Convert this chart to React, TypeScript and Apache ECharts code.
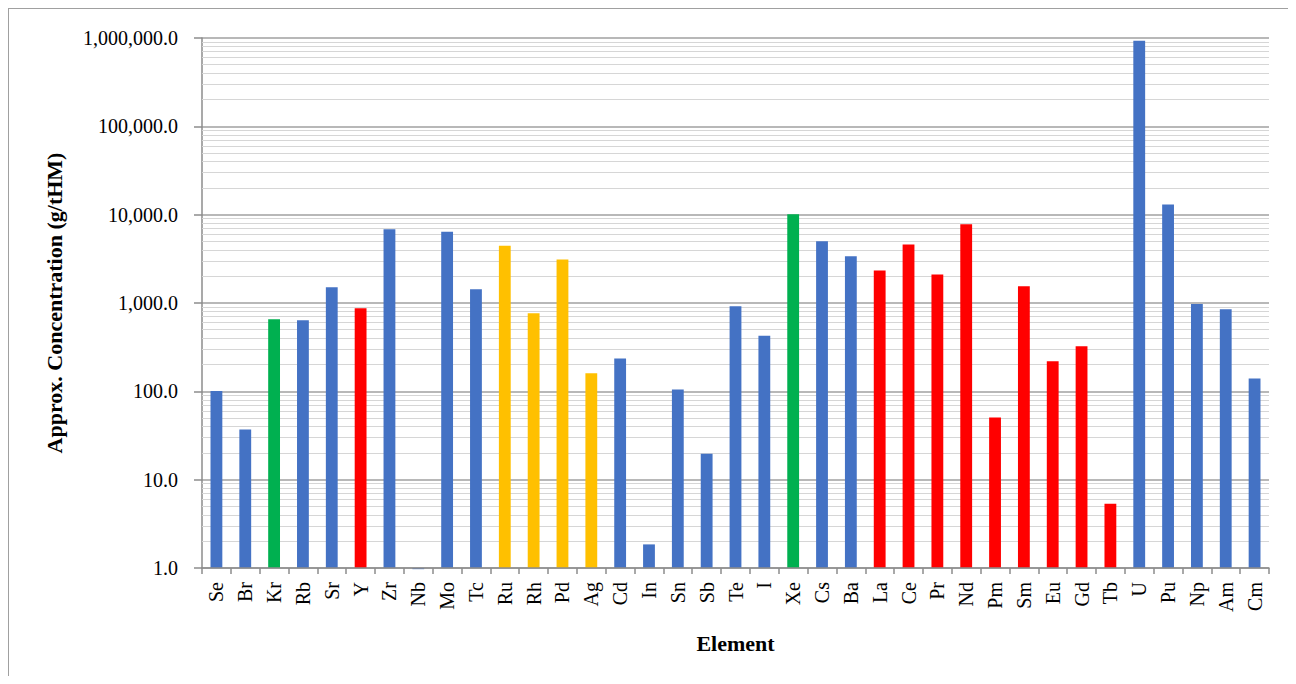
import React, { useEffect, useRef } from "react";
import * as echarts from "echarts";

const categories = ["Se","Br","Kr","Rb","Sr","Y","Zr","Nb","Mo","Tc","Ru","Rh","Pd","Ag","Cd","In","Sn","Sb","Te","I","Xe","Cs","Ba","La","Ce","Pr","Nd","Pm","Sm","Eu","Gd","Tb","U","Pu","Np","Am","Cm"];
const concentrations = [101, 37, 653, 637, 1504, 870, 6840, 0.97, 6400, 1430, 4450, 765, 3100, 160, 235, 1.85, 105, 19.6, 920, 425, 10100, 5000, 3380, 2330, 4580, 2105, 7780, 50.5, 1545, 219, 323, 5.35, 930000, 13060, 977, 849, 140];
const groups = ["o","o","gas","o","o","re","o","o","o","o","pgm","pgm","pgm","pgm","o","o","o","o","o","o","gas","o","o","re","re","re","re","re","re","re","re","re","o","o","o","o","o"];
const groupColors: Record<string, string> = { o: "#4472C4", gas: "#00B050", re: "#FF0000", pgm: "#FFC000" };
const majorTicks = [1, 10, 100, 1000, 10000, 100000, 1000000];
const minorSteps = [2, 3, 4, 5, 6, 7, 8, 9];

const FONT = "'Liberation Serif', 'Times New Roman', serif";

export default function App() {
  const ref = useRef<HTMLDivElement>(null);
  useEffect(() => {
    if (!ref.current) return;
    const chart = echarts.init(ref.current, null, { renderer: "svg" });
    const minorLines: { yAxis: number }[] = [];
    majorTicks.slice(0, -1).forEach((d) => minorSteps.forEach((m) => minorLines.push({ yAxis: d * m })));
    chart.setOption({
      animation: false,
      backgroundColor: "#ffffff",
      grid: { left: 193, right: 19, top: 29, bottom: 108, containLabel: false },
      xAxis: {
        type: "category",
        data: categories,
        name: "Element",
        nameLocation: "middle",
        nameGap: 64,
        nameTextStyle: { fontFamily: FONT, fontSize: 22, fontWeight: "bold", color: "#000" },
        axisLine: { onZero: false, lineStyle: { color: "#8c8c8c", width: 1.5 } },
        axisTick: { show: true, length: 6, lineStyle: { color: "#8c8c8c", width: 1.5 } },
        axisLabel: { rotate: 90, margin: 14, fontFamily: FONT, fontSize: 20, color: "#000", interval: 0 },
        splitLine: { show: false },
        z: 20,
      },
      yAxis: {
        type: "log",
        logBase: 10,
        min: 1,
        max: 1000000,
        splitNumber: 6,
        name: "Approx. Concentration (g/tHM)",
        nameLocation: "middle",
        nameGap: 137,
        nameTextStyle: { fontFamily: FONT, fontSize: 22, fontWeight: "bold", color: "#000" },
        axisLine: { show: true, lineStyle: { color: "#8c8c8c", width: 1.5 } },
        axisTick: { show: true, length: 8, lineStyle: { color: "#8c8c8c", width: 1.5 } },
        axisLabel: {
          margin: 24,
          fontFamily: FONT,
          fontSize: 20,
          color: "#000",
          formatter: (v: number) => v.toLocaleString("en-US", { minimumFractionDigits: 1, maximumFractionDigits: 1 }),
        },
        splitLine: { show: true, lineStyle: { color: "#a0a0a0", width: 1.5 } },
      },
      series: [
        {
          type: "line",
          data: categories.map(() => null),
          showSymbol: false,
          silent: true,
          z: 1,
          markLine: {
            silent: true,
            symbol: ["none", "none"],
            label: { show: false },
            lineStyle: { color: "#d6d6d6", width: 1.2, type: "solid" },
            data: minorLines,
          },
        },
        {
          type: "bar",
          z: 10,
          clip: false,
          barWidth: "41%",
          data: concentrations.map((v, i) => ({ value: v, itemStyle: { color: groupColors[groups[i]] } })),
        },
      ],
    });
    return () => chart.dispose();
  }, []);
  return (
    <div style={{ width: 1280, height: 668, borderTop: "1px solid #a0a0a0", borderLeft: "1px solid #a0a0a0", boxSizing: "border-box", background: "#fff" }}>
      <div ref={ref} style={{ width: 1279, height: 667 }} />
    </div>
  );
}
